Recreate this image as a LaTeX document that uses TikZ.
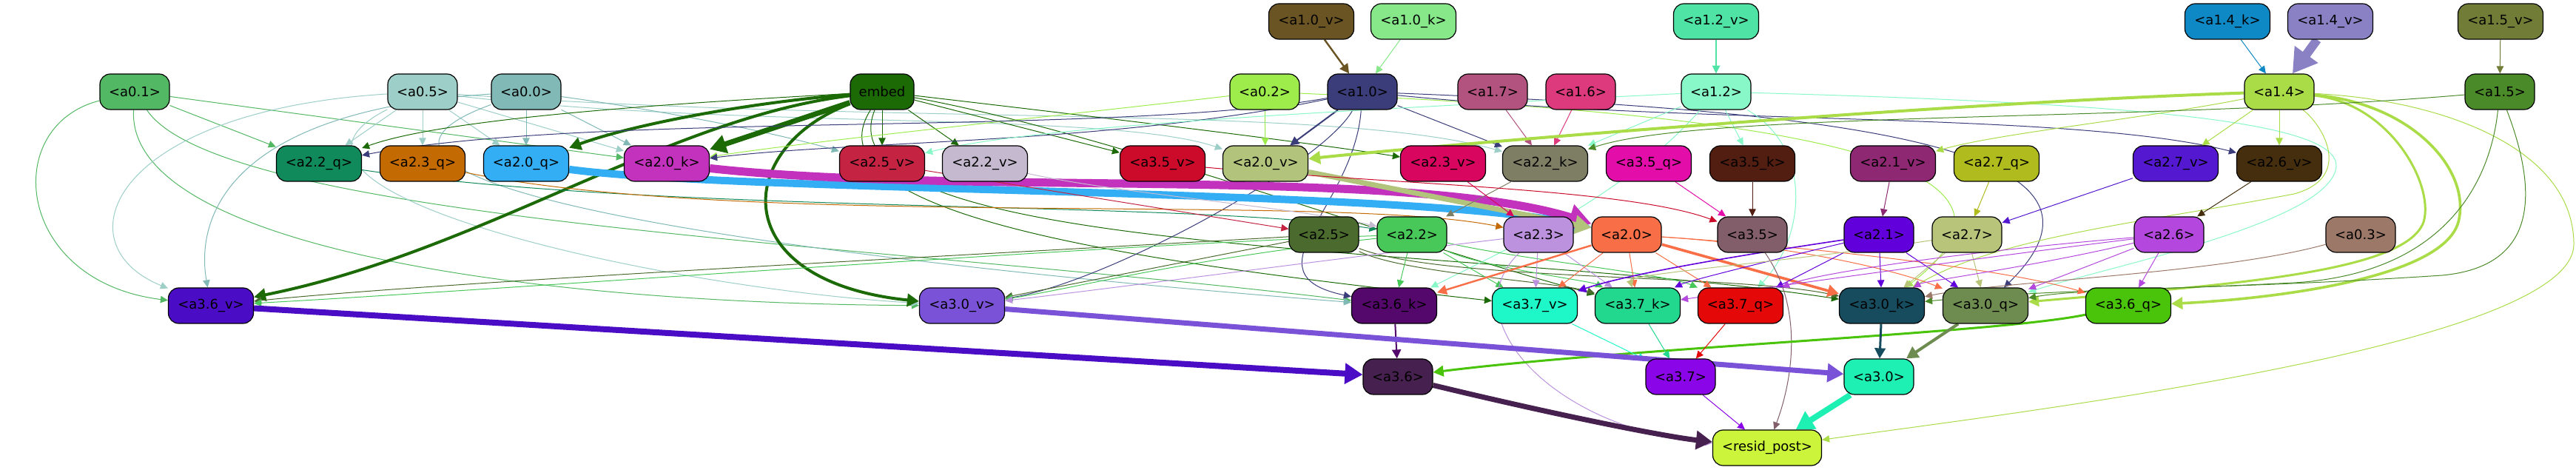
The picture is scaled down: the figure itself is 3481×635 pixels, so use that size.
\documentclass[tikz,border=0pt]{standalone}
\usepackage{fontspec}
\setmainfont{DejaVu Sans}
\usetikzlibrary{arrows.meta}
\pgfdeclarelayer{back}
\pgfdeclarelayer{edges}
\pgfsetlayers{back,edges,main}
\definecolor{c10v}{HTML}{6B5424}
\definecolor{c10k}{HTML}{86E889}
\definecolor{c12v}{HTML}{4FE3A5}
\definecolor{c14k}{HTML}{0F88C6}
\definecolor{c14v}{HTML}{8A80C4}
\definecolor{c15v}{HTML}{717C37}
\definecolor{c01}{HTML}{53B864}
\definecolor{c05}{HTML}{9DCFC8}
\definecolor{c00}{HTML}{80B9B6}
\definecolor{cemb}{HTML}{1C6A06}
\definecolor{c02}{HTML}{9EEC4B}
\definecolor{c10}{HTML}{3A3D7A}
\definecolor{c17}{HTML}{B2527E}
\definecolor{c16}{HTML}{DC3A7C}
\definecolor{c12}{HTML}{88F8C8}
\definecolor{c14}{HTML}{AADC48}
\definecolor{c15}{HTML}{4A8A28}
\definecolor{c22q}{HTML}{108A5A}
\definecolor{c23q}{HTML}{C46A02}
\definecolor{c20q}{HTML}{33AEF5}
\definecolor{c20k}{HTML}{C232BD}
\definecolor{c25v}{HTML}{C42342}
\definecolor{c22v}{HTML}{C5B9D0}
\definecolor{c35v}{HTML}{CC0A2A}
\definecolor{c20v}{HTML}{B2C47C}
\definecolor{c23v}{HTML}{D8065E}
\definecolor{c22k}{HTML}{7E7E65}
\definecolor{c35q}{HTML}{E30DAA}
\definecolor{c35k}{HTML}{521E12}
\definecolor{c21v}{HTML}{8E2872}
\definecolor{c27q}{HTML}{B0BC1E}
\definecolor{c27v}{HTML}{5418D0}
\definecolor{c26v}{HTML}{452E0E}
\definecolor{c25}{HTML}{4A6A2E}
\definecolor{c22}{HTML}{48C858}
\definecolor{c23}{HTML}{BC92DE}
\definecolor{c20}{HTML}{F86E46}
\definecolor{c35}{HTML}{825E6A}
\definecolor{c21}{HTML}{6200DC}
\definecolor{c27}{HTML}{B8C47A}
\definecolor{c26}{HTML}{B448DE}
\definecolor{c03}{HTML}{9C7868}
\definecolor{c36v}{HTML}{4A0CC4}
\definecolor{c30v}{HTML}{7A52D8}
\definecolor{c36k}{HTML}{54086C}
\definecolor{c37v}{HTML}{1EF8C8}
\definecolor{c37k}{HTML}{22D88E}
\definecolor{c37q}{HTML}{E40808}
\definecolor{c30k}{HTML}{164C5E}
\definecolor{c30q}{HTML}{6E8C50}
\definecolor{c36q}{HTML}{4AC40A}
\definecolor{c36}{HTML}{46204E}
\definecolor{c37}{HTML}{8A06E8}
\definecolor{c30}{HTML}{1EF0B4}
\definecolor{cres}{HTML}{CBF43A}
\tikzset{
  nd/.style={draw=black, line width=0.6pt, rounded corners=7pt, minimum height=24pt,
    minimum width=47pt, inner sep=0pt, font=\fontsize{9}{11}\selectfont, text=black},
  wd/.style={minimum width=57.5pt},
  ed/.style={line width=0.5pt, -{Triangle[length=4pt 2, width=3.5pt 2.5]}},
}
\begin{document}
\begin{tikzpicture}[x=0.5pt,y=-0.5pt]
\useasboundingbox (0,0) rectangle (3481,635);
\begin{pgfonlayer}{back}
\fill[white] (0,0) rectangle (3481,635);
\end{pgfonlayer}
% row A
\node[nd,wd,fill=c10v] (a10v) at (1772,29) {<a1.0\_v>};
\node[nd,wd,fill=c10k] (a10k) at (1910,29) {<a1.0\_k>};
\node[nd,wd,fill=c12v] (a12v) at (2319,29) {<a1.2\_v>};
\node[nd,wd,fill=c14k] (a14k) at (3010,29) {<a1.4\_k>};
\node[nd,wd,fill=c14v] (a14v) at (3149,29) {<a1.4\_v>};
\node[nd,wd,fill=c15v] (a15v) at (3379,29) {<a1.5\_v>};
% row B
\node[nd,fill=c01] (a01) at (182,124) {<a0.1>};
\node[nd,fill=c05] (a05) at (571,124) {<a0.5>};
\node[nd,fill=c00] (a00) at (711,124) {<a0.0>};
\node[nd,minimum width=43pt,fill=cemb] (embed) at (1192,124) {embed};
\node[nd,fill=c02] (a02) at (1709,124) {<a0.2>};
\node[nd,fill=c10] (a10) at (1841,124) {<a1.0>};
\node[nd,fill=c17] (a17) at (2017,124) {<a1.7>};
\node[nd,fill=c16] (a16) at (2136,124) {<a1.6>};
\node[nd,fill=c12] (a12) at (2319,124) {<a1.2>};
\node[nd,fill=c14] (a14) at (3080,124) {<a1.4>};
\node[nd,fill=c15] (a15) at (3378,124) {<a1.5>};
% row C
\node[nd,wd,fill=c22q] (a22q) at (431,221) {<a2.2\_q>};
\node[nd,wd,fill=c23q] (a23q) at (571,221) {<a2.3\_q>};
\node[nd,wd,fill=c20q] (a20q) at (711,221) {<a2.0\_q>};
\node[nd,wd,fill=c20k] (a20k) at (901,221) {<a2.0\_k>};
\node[nd,wd,fill=c25v] (a25v) at (1192,221) {<a2.5\_v>};
\node[nd,wd,fill=c22v] (a22v) at (1331,221) {<a2.2\_v>};
\node[nd,wd,fill=c35v] (a35v) at (1571,221) {<a3.5\_v>};
\node[nd,wd,fill=c20v] (a20v) at (1710,221) {<a2.0\_v>};
\node[nd,wd,fill=c23v] (a23v) at (1950,221) {<a2.3\_v>};
\node[nd,wd,fill=c22k] (a22k) at (2088,221) {<a2.2\_k>};
\node[nd,wd,fill=c35q] (a35q) at (2228,221) {<a3.5\_q>};
\node[nd,wd,fill=c35k] (a35k) at (2368,221) {<a3.5\_k>};
\node[nd,wd,fill=c21v] (a21v) at (2558,221) {<a2.1\_v>};
\node[nd,wd,fill=c27q] (a27q) at (2698,221) {<a2.7\_q>};
\node[nd,wd,fill=c27v] (a27v) at (2940,221) {<a2.7\_v>};
\node[nd,wd,fill=c26v] (a26v) at (3080,221) {<a2.6\_v>};
% row D
\node[nd,fill=c25] (a25) at (1789,317) {<a2.5>};
\node[nd,fill=c22] (a22) at (1908,317) {<a2.2>};
\node[nd,fill=c23] (a23) at (2079,317) {<a2.3>};
\node[nd,fill=c20] (a20) at (2198,317) {<a2.0>};
\node[nd,fill=c35] (a35) at (2368,317) {<a3.5>};
\node[nd,fill=c21] (a21) at (2539,317) {<a2.1>};
\node[nd,fill=c27] (a27) at (2658,317) {<a2.7>};
\node[nd,fill=c26] (a26) at (2931,317) {<a2.6>};
\node[nd,fill=c03] (a03) at (3190,317) {<a0.3>};
% row E
\node[nd,wd,fill=c36v] (a36v) at (285,413) {<a3.6\_v>};
\node[nd,wd,fill=c30v] (a30v) at (1300,413) {<a3.0\_v>};
\node[nd,wd,fill=c36k] (a36k) at (1884,413) {<a3.6\_k>};
\node[nd,wd,fill=c37v] (a37v) at (2074,413) {<a3.7\_v>};
\node[nd,wd,fill=c37k] (a37k) at (2213,413) {<a3.7\_k>};
\node[nd,wd,fill=c37q] (a37q) at (2352,413) {<a3.7\_q>};
\node[nd,wd,fill=c30k] (a30k) at (2543,413) {<a3.0\_k>};
\node[nd,wd,fill=c30q] (a30q) at (2683,413) {<a3.0\_q>};
\node[nd,wd,fill=c36q] (a36q) at (2876,413) {<a3.6\_q>};
% row F
\node[nd,fill=c36] (a36) at (1889,509) {<a3.6>};
\node[nd,fill=c37] (a37) at (2271,509) {<a3.7>};
\node[nd,fill=c30] (a30) at (2539,509) {<a3.0>};
% row G
\node[nd,minimum width=73.5pt,fill=cres] (resid) at (2388,605) {<resid\_post>};

\begin{pgfonlayer}{edges}
% A -> B
\draw[ed,c10v,line width=1.2pt] (a10v) -- (a10);
\draw[ed,c10k] (a10k) -- (a10);
\draw[ed,c12v,line width=0.7pt] (a12v) -- (a12);
\draw[ed,c14k] (a14k) -- (a14);
\draw[ed,c14v,line width=6pt] (a14v) -- (a14);
\draw[ed,c15v] (a15v) -- (a15);
% a0.1
\draw[ed,c01] (a01) -- (a22q);
\draw[ed,c01] (a01) -- (a20k);
\draw[ed,c01] (a01) .. controls (0,170) and (20,380) .. (a36v);
\draw[ed,c01] (a01) .. controls (170,330) and (700,410) .. (a30v);
\draw[ed,c01] (a01) .. controls (300,300) and (1200,330) .. (a36k);
% a0.5
\draw[ed,c05] (a05) -- (a22q);
\draw[ed,c05] (a05) -- (a23q);
\draw[ed,c05] (a05) -- (a20q);
\draw[ed,c05] (a05) -- (a20k);
\draw[ed,c05] (a05) .. controls (1000,175) and (1500,150) .. (a20v);
\draw[ed,c05] (a05) .. controls (1200,170) and (1800,140) .. (a22k);
\draw[ed,c05] (a05) .. controls (150,150) and (80,330) .. (a36v);
\draw[ed,c05] (a05) .. controls (300,260) and (900,390) .. (a30v);
% a0.0
\draw[ed,c00] (a00) -- (a20q);
\draw[ed,c00] (a00) -- (a20k);
\draw[ed,c00] (a00) .. controls (900,150) and (1050,180) .. (a25v);
\draw[ed,c00] (a00) .. controls (300,150) and (265,300) .. (a36v);
\draw[ed,c00] (a00) .. controls (340,260) and (1200,360) .. (a36k);
% embed
\draw[ed,cemb] (embed) .. controls (900,140) and (600,160) .. (a22q);
\draw[ed,cemb,line width=2pt] (embed) .. controls (1000,140) and (850,170) .. (a20q);
\draw[ed,cemb,line width=3.5pt] (embed) -- (a20k);
\draw[ed,cemb,line width=2pt] (embed) .. controls (900,160) and (650,340) .. (a36v);
\draw[ed,cemb,line width=2pt] (embed) .. controls (990,200) and (980,380) .. (a30v);
\draw[ed,cemb] (embed) -- (a25v);
\draw[ed,cemb] (embed) -- (a22v);
\draw[ed,cemb] (embed) -- (a35v);
\draw[ed,cemb] (embed) .. controls (1500,160) and (1750,190) .. (a23v);
\draw[ed,cemb] (embed) .. controls (1080,300) and (1600,360) .. (a37v);
\draw[ed,cemb] (embed) .. controls (1500,180) and (1900,330) .. (a37k);
\draw[ed,cemb] (embed) .. controls (1100,350) and (2000,330) .. (a30k);
% a0.2
\draw[ed,c02] (a02) -- (a20v);
\draw[ed,c02] (a02) .. controls (1400,160) and (1100,190) .. (a20k);
\draw[ed,c02] (a02) .. controls (2300,150) and (2820,200) .. (a30k);
% a1.0
\draw[ed,c10,line width=1pt] (a10) -- (a20v);
\draw[ed,c10] (a10) .. controls (1500,185) and (800,150) .. (a22q);
\draw[ed,c10] (a10) .. controls (1500,195) and (1150,190) .. (a20k);
\draw[ed,c10] (a10) -- (a22k);
\draw[ed,c10] (a10) .. controls (2300,170) and (2800,150) .. (a26v);
\draw[ed,c10] (a10) .. controls (1830,280) and (1680,370) .. (a36k);
\draw[ed,c10] (a10) .. controls (1790,220) and (1500,380) .. (a30v);
\draw[ed,c10] (a10) .. controls (2500,150) and (2900,200) .. (a30q);
% a1.7 a1.6
\draw[ed,c17] (a17) -- (a22k);
\draw[ed,c16] (a16) -- (a22k);
% a1.2
\draw[ed,c12] (a12) -- (a22k);
\draw[ed,c12] (a12) .. controls (1800,150) and (1400,170) .. (a25v);
\draw[ed,c12] (a12) -- (a35k);
\draw[ed,c12] (a12) .. controls (2200,260) and (2050,330) .. (a36k);
\draw[ed,c12] (a12) .. controls (2900,140) and (3160,165) .. (3157,225) .. controls (3150,300) and (2850,360) .. (a30q);
\draw[ed,c12] (a12) .. controls (2450,200) and (2440,320) .. (a37q);
% a1.4
\draw[ed,c14,line width=2pt] (a14) .. controls (2600,140) and (1900,200) .. (a20v);
\draw[ed,c14] (a14) .. controls (2900,160) and (2700,180) .. (a21v);
\draw[ed,c14] (a14) -- (a27v);
\draw[ed,c14] (a14) -- (a26v);
\draw[ed,c14,line width=1.8pt] (a14) .. controls (3260,140) and (3340,230) .. (3322,300) .. controls (3300,380) and (3050,405) .. (a36q);
\draw[ed,c14,line width=1.5pt] (a14) .. controls (3230,140) and (3290,250) .. (3275,300) .. controls (3250,370) and (3000,385) .. (a30q);
\draw[ed,c14] (a14) .. controls (3300,135) and (3478,200) .. (3478,330) .. controls (3478,470) and (2700,560) .. (resid);
\draw[ed,c14] (a14) .. controls (3140,170) and (3180,240) .. (3100,262) .. controls (2900,300) and (2700,320) .. (a30k);
% a1.5
\draw[ed,c15] (a15) .. controls (2900,165) and (2300,150) .. (a22k);
\draw[ed,c15] (a15) .. controls (3365,250) and (3300,370) .. (3100,382) .. controls (2900,392) and (2800,392) .. (a30q);
\draw[ed,c15] (a15) .. controls (3430,260) and (3430,360) .. (3300,372) .. controls (3000,392) and (2800,388) .. (a30k);
% C -> D
\draw[ed,c22q] (a22q) .. controls (900,290) and (1600,270) .. (a22);
\draw[ed,c23q] (a23q) .. controls (1000,310) and (1800,260) .. (a23);
\draw[ed,c20q,line width=5pt] (a20q) .. controls (1000,260) and (1900,255) .. (a20);
\draw[ed,c20k,line width=5.5pt] (a20k) .. controls (1300,265) and (1900,225) .. (a20);
\draw[ed,c20v,line width=3.5pt] (a20v) -- (a20);
\draw[ed,c22v] (a22v) .. controls (1500,260) and (1750,280) .. (a22);
\draw[ed,c22k] (a22k) -- (a22);
\draw[ed,c23v] (a23v) -- (a23);
\draw[ed,c25v] (a25v) -- (a25);
\draw[ed,c35v] (a35v) .. controls (1900,250) and (2200,255) .. (a35);
\draw[ed,c35q] (a35q) -- (a35);
\draw[ed,c35k] (a35k) -- (a35);
\draw[ed,c21v] (a21v) -- (a21);
\draw[ed,c27q] (a27q) -- (a27);
\draw[ed,c27v] (a27v) -- (a27);
\draw[ed,c26v] (a26v) -- (a26);
% a2.5
\draw[ed,c25] (a25) .. controls (1400,340) and (600,380) .. (a36v);
\draw[ed,c25] (a25) -- (a30v);
\draw[ed,c25] (a25) .. controls (1900,370) and (2100,380) .. (a37k);
\draw[ed,c25] (a25) .. controls (1950,380) and (2350,370) .. (a30k);
% a2.2
\draw[ed,c22] (a22) .. controls (1500,330) and (700,390) .. (a36v);
\draw[ed,c22] (a22) .. controls (1600,350) and (1450,390) .. (a30v);
\draw[ed,c22] (a22) -- (a36k);
\draw[ed,c22] (a22) -- (a37v);
\draw[ed,c22] (a22) .. controls (2000,360) and (2150,380) .. (a37k);
\draw[ed,c22] (a22) .. controls (2050,350) and (2250,370) .. (a37q);
% a2.3
\draw[ed,c23] (a23) .. controls (1800,350) and (1500,390) .. (a30v);
\draw[ed,c23] (a23) -- (a37v);
\draw[ed,c23] (a23) -- (a37k);
\draw[ed,c23] (a23) .. controls (1960,430) and (2100,580) .. (resid);
% a2.0
\draw[ed,c20,line width=1.2pt] (a20) -- (a36k);
\draw[ed,c20] (a20) -- (a37v);
\draw[ed,c20] (a20) -- (a37k);
\draw[ed,c20] (a20) -- (a37q);
\draw[ed,c20,line width=1.8pt] (a20) -- (a30k);
\draw[ed,c20] (a20) .. controls (2400,330) and (2700,360) .. (a36q);
\draw[ed,c20] (a20) .. controls (2400,330) and (2550,360) .. (a30q);
% a3.5
\draw[ed,c35] (a35) .. controls (2440,420) and (2420,520) .. (resid);
% a2.1
\draw[ed,c21,line width=0.8pt] (a21) .. controls (2350,345) and (2200,370) .. (a37v);
\draw[ed,c21] (a21) .. controls (2400,350) and (2280,380) .. (a37k);
\draw[ed,c21] (a21) -- (a37q);
\draw[ed,c21] (a21) -- (a30k);
\draw[ed,c21] (a21) -- (a30q);
% a2.7
\draw[ed,c27] (a27) -- (a30k);
\draw[ed,c27] (a27) -- (a30q);
\draw[ed,c27] (a27) .. controls (2450,350) and (2200,370) .. (a37k);
% a2.6
\draw[ed,c26] (a26) .. controls (2650,340) and (2450,370) .. (a37q);
\draw[ed,c26] (a26) .. controls (2700,345) and (2450,380) .. (a37k);
\draw[ed,c26] (a26) -- (a30q);
\draw[ed,c26] (a26) -- (a36q);
\draw[ed,c26] (a26) .. controls (2750,360) and (2600,380) .. (a30k);
% a0.3
\draw[ed,c03] (a03) .. controls (3000,370) and (2700,380) .. (a30k);
% E -> F
\draw[ed,c36k,line width=1pt] (a36k) -- (a36);
\draw[ed,c36v,line width=4pt] (a36v) -- (a36);
\draw[ed,c36q,line width=1.5pt] (a36q) .. controls (2700,450) and (2200,470) .. (a36);
\draw[ed,c37v] (a37v) -- (a37);
\draw[ed,c37k] (a37k) -- (a37);
\draw[ed,c37q] (a37q) -- (a37);
\draw[ed,c30k,line width=1.5pt] (a30k) -- (a30);
\draw[ed,c30q,line width=2pt] (a30q) -- (a30);
\draw[ed,c30v,line width=3.5pt] (a30v) -- (a30);
% F -> G
\draw[ed,c36,line width=3.5pt] (a36) .. controls (2100,560) and (2250,590) .. (resid);
\draw[ed,c37] (a37) -- (resid);
\draw[ed,c30,line width=4pt] (a30) -- (resid);
\end{pgfonlayer}
\end{tikzpicture}
\end{document}
